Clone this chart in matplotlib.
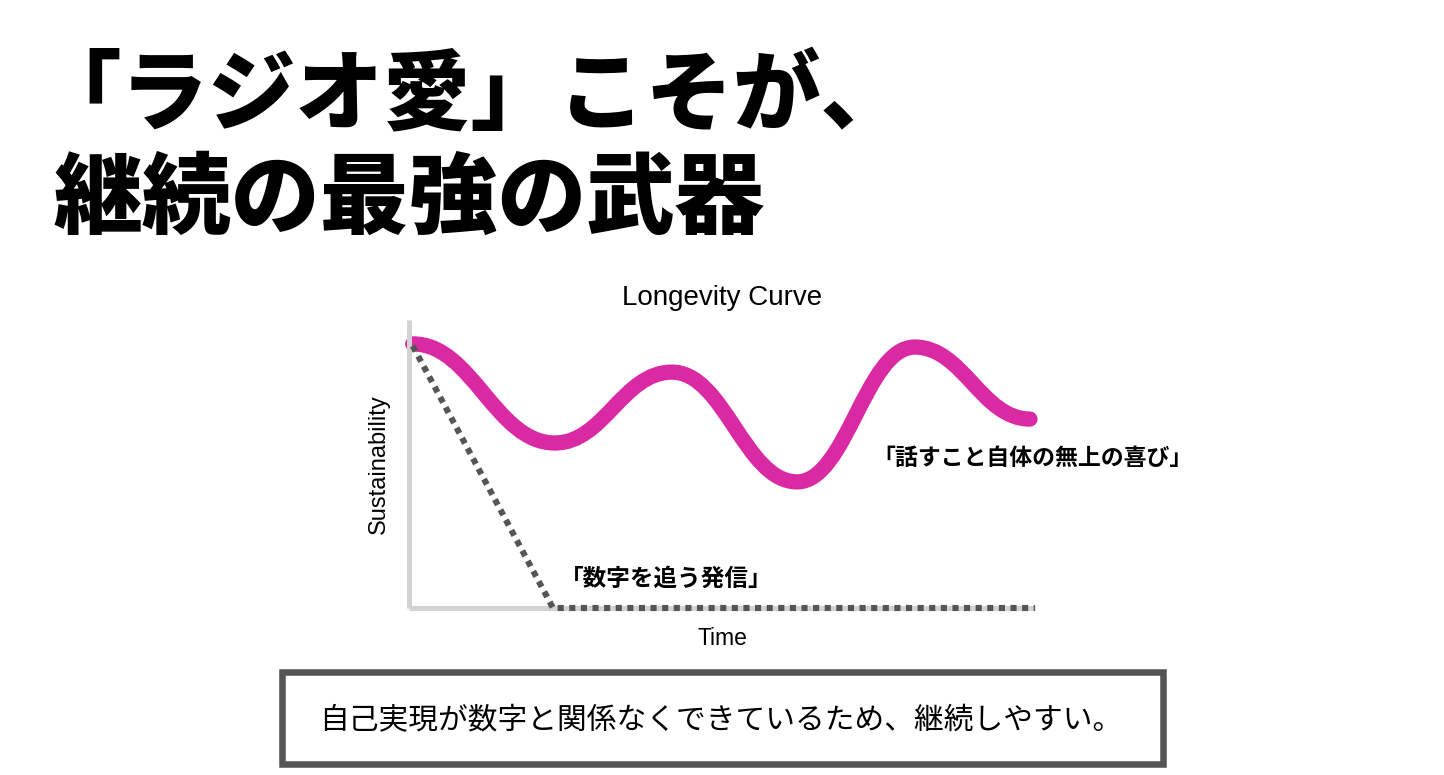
import matplotlib
matplotlib.use("Agg")
import matplotlib.pyplot as plt
from matplotlib.path import Path
from matplotlib.patches import PathPatch, Rectangle
import numpy as np

plt.rcParams['font.family'] = ['Noto Sans CJK JP', 'DejaVu Sans']

# ---- data ----
title_lines = ["「ラジオ愛」こそが、", "継続の最強の武器"]
chart_title = "Longevity Curve"
x_label = "Time"
y_label = "Sustainability"
love_label = "「話すこと自体の無上の喜び」"
numbers_label = "「数字を追う発信」"
footer_text = "自己実現が数字と関係なくできているため、継続しやすい。"

# Longevity curve: turning points (time, sustainability), joined by smooth S-curves
love_x = [0.6, 23.3, 42.0, 62.0, 80.8, 99.2]
love_y = [91.7, 57.3, 81.9, 43.8, 90.6, 65.6]

# Chasing-numbers line
num_x = [0.6, 23.0, 100.0]
num_y = [91.0, 0.0, 0.0]

PINK = "#D92AA4"
DARK = "#555555"
AXIS_GRAY = "#D3D3D3"

W, H = 1444, 775
fig = plt.figure(figsize=(W / 100, H / 100), dpi=100)
fig.patch.set_facecolor("white")

# ---- main axes ----
L, R, T, B = 409, 1035, 320, 608
ax = fig.add_axes([L / W, 1 - B / H, (R - L) / W, (B - T) / H])
ax.set_xlim(0, 100)
ax.set_ylim(0, 100)
for s in ["top", "right"]:
    ax.spines[s].set_visible(False)
for s in ["left", "bottom"]:
    ax.spines[s].set_color(AXIS_GRAY)
    ax.spines[s].set_linewidth(3.6)
    ax.spines[s].set_capstyle("butt")
ax.set_xticks([])
ax.set_yticks([])
ax.patch.set_alpha(0)

# dotted line
ln, = ax.plot(num_x, num_y, color=DARK, lw=4.4, solid_capstyle="butt",
              clip_on=False, zorder=3)
ln.set_dashes((1.0, 0.9))
ln.set_dash_capstyle("butt")

# smooth curve through turning points (horizontal tangents at each)
verts = [(love_x[0], love_y[0])]
codes = [Path.MOVETO]
for i in range(len(love_x) - 1):
    x0, y0, x1, y1 = love_x[i], love_y[i], love_x[i + 1], love_y[i + 1]
    dx = x1 - x0
    verts += [(x0 + 0.42 * dx, y0), (x1 - 0.42 * dx, y1), (x1, y1)]
    codes += [Path.CURVE4] * 3
patch = PathPatch(Path(verts, codes), fill=False, edgecolor=PINK, lw=11,
                  capstyle="round", joinstyle="round", clip_on=False, zorder=2)
ax.add_patch(patch)

latin = ["Liberation Sans", "DejaVu Sans"]
ax.set_title(chart_title, family=latin, fontsize=20, pad=11)
ax.set_xlabel(x_label, family=latin, fontsize=16.5, labelpad=14)
ax.set_ylabel(y_label, family=latin, fontsize=17, labelpad=14)

ax.text((872 - L) / (R - L) * 100, (B - 458) / (B - T) * 100, love_label,
        fontsize=16.5, fontweight="bold", ha="left", va="center", clip_on=False)
ax.text((560 - L) / (R - L) * 100, (B - 579) / (B - T) * 100, numbers_label,
        fontsize=17, fontweight="bold", ha="left", va="center", clip_on=False)

# ---- big heading ----
fig.text(33 / W, 1 - 96 / H, title_lines[0], fontsize=63, fontweight="black",
         ha="left", va="center")
fig.text(53 / W, 1 - 200 / H, title_lines[1], fontsize=64, fontweight="black",
         ha="left", va="center")

# ---- footer box ----
bx0, bx1, by0, by1 = 282, 1162.5, 671.5, 764
fig.patches.append(Rectangle((bx0 / W, 1 - by1 / H), (bx1 - bx0) / W, (by1 - by0) / H,
                             transform=fig.transFigure, facecolor="white",
                             edgecolor=DARK, lw=4.7, zorder=1))
fig.text(721 / W, 1 - 721 / H, footer_text, fontsize=21.4, ha="center", va="center",
         zorder=2)

fig.savefig("out.png", dpi=100)
